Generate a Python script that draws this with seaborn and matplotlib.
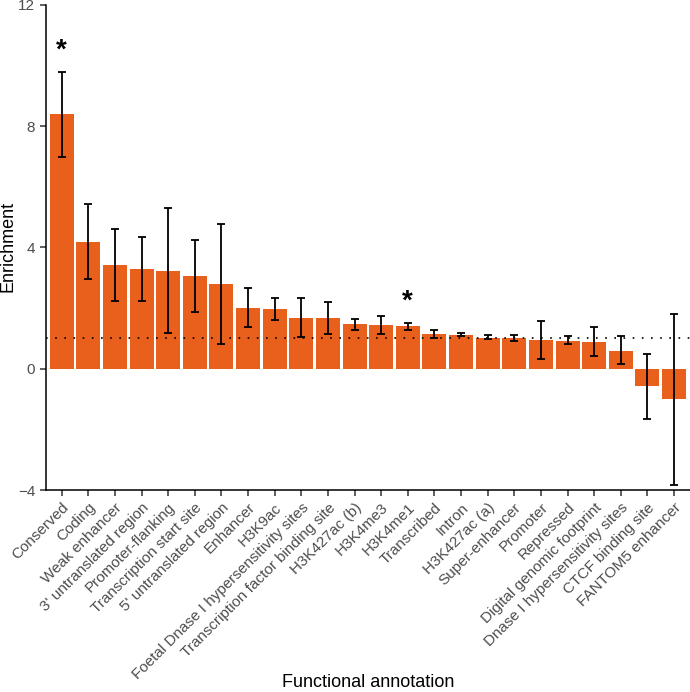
import matplotlib
matplotlib.use('Agg')
import matplotlib.pyplot as plt
import seaborn as sns
import numpy as np
import pandas as pd

# ── Data ──────────────────────────────────────────────────────────────────────
annotations = ['Conserved', 'Coding', 'Weak enhancer', "3' untranslated region",
               'Promoter-flanking', 'Transcription start site', "5' untranslated region",
               'Enhancer', 'H3K9ac', 'Foetal Dnase I hypersensitivity sites',
               'Transcription factor binding site', 'H3K427ac (b)', 'H3K4me3', 'H3K4me1',
               'Transcribed', 'Intron', 'H3K427ac (a)', 'Super-enhancer', 'Promoter',
               'Repressed', 'Digital genomic footprint', 'Dnase I hypersensitivity sites',
               'CTCF binding site', 'FANTOM5 enhancer']
enrichment = [8.39, 4.18, 3.42, 3.30, 3.23, 3.07, 2.81, 2.00, 1.97, 1.67, 1.66, 1.46,
              1.44, 1.40, 1.14, 1.11, 1.03, 1.00, 0.95, 0.93, 0.89, 0.59, -0.58, -1.01]
err_low  = [6.99, 2.95, 2.24, 2.24, 1.19, 1.88, 0.83, 1.38, 1.62, 1.04, 1.15, 1.29,
            1.14, 1.29, 1.00, 1.07, 0.98, 0.92, 0.32, 0.83, 0.42, 0.15, -1.67, -3.84]
err_high = [9.80, 5.42, 4.62, 4.35, 5.31, 4.26, 4.79, 2.65, 2.34, 2.32, 2.20, 1.64,
            1.75, 1.51, 1.28, 1.18, 1.10, 1.10, 1.58, 1.07, 1.38, 1.08, 0.50, 1.82]
significant = ['Conserved', 'H3K4me1']
star_y = [10.5, 2.2]

BAR_COLOR = '#E8601C'

df = pd.DataFrame({'annotation': annotations, 'enrichment': enrichment,
                   'lo': err_low, 'hi': err_high})

sns.set_theme(style='ticks')
plt.rcParams['font.family'] = ['Liberation Sans', 'DejaVu Sans']

fig = plt.figure(figsize=(6.9, 6.92), dpi=100)
ax = fig.add_axes([0.0662, 0.2919, 0.9338, 0.7009])

sns.barplot(data=df, x='annotation', y='enrichment', color=BAR_COLOR,
            saturation=1, width=0.9, ax=ax, errorbar=None)
for p in ax.patches:
    p.set_edgecolor('none')

xs = np.arange(len(df))
ax.errorbar(xs, df['enrichment'],
            yerr=[df['enrichment'] - df['lo'], df['hi'] - df['enrichment']],
            fmt='none', ecolor='black', elinewidth=1.3, capsize=3, capthick=1.3)

# reference line at enrichment = 1
ax.axhline(1, color='black', linestyle=(0, (1, 4.5)), linewidth=1.2)

for name, yv in zip(significant, star_y):
    ax.text(annotations.index(name), yv, '*', ha='center', va='center',
            fontsize=20, fontweight='bold', color='black')

ax.set_xlim(-0.6, len(df) - 0.4)
ax.set_ylim(-4, 12)
ax.set_yticks([-4, 0, 4, 8, 12])
ax.set_xticks(xs)
ax.set_xticklabels(annotations, rotation=45, ha='right', rotation_mode='anchor')
ax.tick_params(axis='both', labelsize=11, labelcolor='#4D4D4D', color='#333333',
               length=4, width=1.1)
ax.set_xlabel('')
ax.set_ylabel('')
sns.despine(ax=ax)
for s in ['left', 'bottom']:
    ax.spines[s].set_linewidth(1.1)
    ax.spines[s].set_color('black')

# axis titles placed like the reference (tight to the figure edges)
fig.text(368 / 690, 0.002, 'Functional annotation', fontsize=13,
         ha='center', va='bottom', color='black')
fig.text(8 / 690, 1 - 246 / 692, 'Enrichment', fontsize=13, rotation=90,
         ha='center', va='center', color='black')

fig.savefig('out.png', dpi=100)
